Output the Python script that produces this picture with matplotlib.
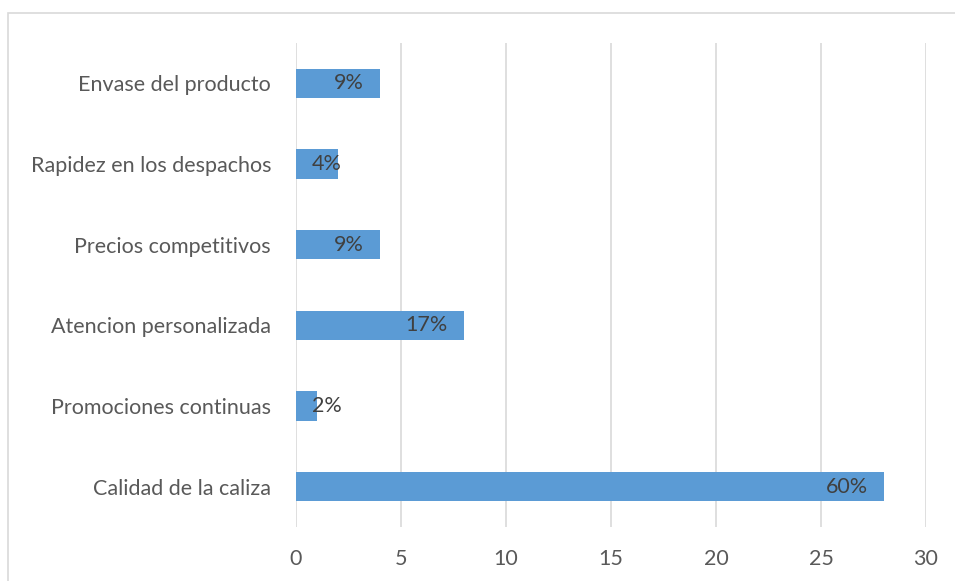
import matplotlib
matplotlib.use("Agg")
import matplotlib.pyplot as plt
from matplotlib.patches import Rectangle

# data, top to bottom as in the chart
categories = ["Envase del producto", "Rapidez en los despachos", "Precios competitivos",
              "Atencion personalizada", "Promociones continuas", "Calidad de la caliza"]
values = [4, 2, 4, 8, 1, 28]
labels = ["9%", "4%", "9%", "17%", "2%", "60%"]

plt.rcParams['font.family'] = ['Lato', 'DejaVu Sans']
text_c = '#595959'
bar_c = '#5B9BD5'
grid_c = '#D9D9D9'

fig = plt.figure(figsize=(9.55, 5.81), dpi=100)
ax = fig.add_axes([296/955, 1-527/581, 630/955, 484/581])

# border of the chart area
fig.patches.append(Rectangle((8/955, -0.1), 1.1, 1-13/581+0.1, transform=fig.transFigure,
                             fill=False, edgecolor=grid_c, linewidth=1.2))

ypos = list(range(len(categories)))[::-1]
ax.barh(ypos, values, height=0.36, color=bar_c, zorder=3)

for y, v, lab in zip(ypos, values, labels):
    if v > 2:
        ax.annotate(lab, (v, y), xytext=(-16, 0), textcoords='offset pixels',
                    ha='right', va='center', fontsize=15.5, color='#404040', zorder=4)
    else:
        # label does not fit inside the short bar, starts near the axis
        ax.annotate(lab, (0, y), xytext=(16, 0), textcoords='offset pixels',
                    ha='left', va='center', fontsize=15.5, color='#404040', zorder=4)

ax.set_xlim(0, 30)
ax.set_ylim(-0.5, len(categories) - 0.5)
ax.set_xticks(range(0, 31, 5))
ax.set_yticks(ypos)
ax.set_yticklabels(categories)
ax.tick_params(axis='both', length=0, labelsize=15.5, labelcolor=text_c)
ax.tick_params(axis='y', pad=18)
ax.tick_params(axis='x', pad=16)
ax.grid(axis='x', color=grid_c, linewidth=1.2, zorder=0)
for s in ax.spines.values():
    s.set_visible(False)

fig.savefig("out.png", dpi=100)
